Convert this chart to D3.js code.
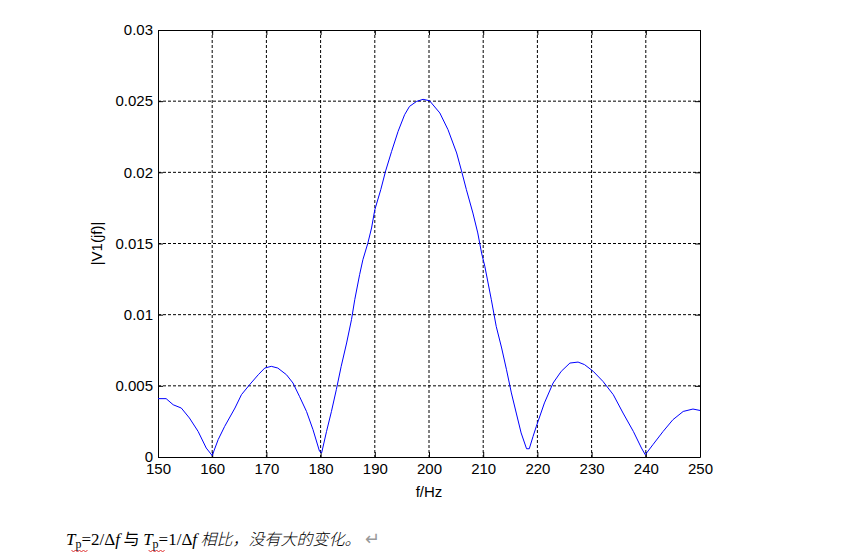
<!DOCTYPE html>
<html>
<head>
<meta charset="utf-8">
<script src="https://cdn.jsdelivr.net/npm/d3@7"></script>
<style>
  body { margin: 0; background: #fff; }
  svg { display: block; }
</style>
</head>
<body>
<div id="canvas"></div>
<script>
// values
var freq = [150, 151.5, 152.8, 154.3, 155.8, 157.4, 158.9, 160, 161.1, 162.3, 164.2, 165.4, 166.9, 168.5, 169.7, 170.9, 172.1, 173.7, 174.9, 176.1, 177.4, 178.6, 179.8, 180.2,
  181.1, 182.0, 182.9, 183.8, 184.8, 185.7, 186.3, 187.2, 187.8, 188.7, 189.4, 190.0, 191.1, 192.0, 193.1, 194.3, 195.5, 196.4, 197.7, 198.9, 200.1,
  202.0, 203.5, 205.1, 206.0, 206.9, 208.1, 209.0, 209.7, 210.3, 211.5, 212.4, 213.4, 214.3, 215.2, 216.1, 217.0, 218.0, 218.5, 219.2, 219.8,
  221.3, 222.9, 224.4, 226.0, 227.5, 228.7, 230.3, 232.1, 234.0, 235.8, 237.7, 239.2, 239.9, 241.3, 243.2, 245.0, 246.9, 248.7, 250];
var mag = [0.0041, 0.0041, 0.00367, 0.00344, 0.00274, 0.0018, 0.00063, 0.0001, 0.00122, 0.00215, 0.00344, 0.00438, 0.00508, 0.00578, 0.00625, 0.00637, 0.00625, 0.00578, 0.0052, 0.00426, 0.0032, 0.00192, 0.0004, 0.0003,
  0.0018, 0.0032, 0.00473, 0.00637, 0.00801, 0.00965, 0.01105, 0.01281, 0.01386, 0.0150, 0.01609, 0.01737, 0.01878, 0.0201, 0.02147, 0.02288, 0.02405, 0.02463, 0.02498, 0.02513, 0.02503,
  0.02417, 0.0230, 0.02136, 0.0201, 0.01878, 0.01714, 0.01574, 0.01433, 0.0134, 0.01105, 0.00918, 0.00766, 0.00613, 0.0045, 0.00309, 0.00169, 0.00058, 0.00058, 0.00145, 0.00215,
  0.0038, 0.0052, 0.00602, 0.0066, 0.00667, 0.00649, 0.00602, 0.00531, 0.00438, 0.00309, 0.0018, 0.00063, 0.00016, 0.00086, 0.0018, 0.00262, 0.0032, 0.00337, 0.00327];

var xTicks = [150, 160, 170, 180, 190, 200, 210, 220, 230, 240, 250];
var yTicks = [0, 0.005, 0.01, 0.015, 0.02, 0.025, 0.03];
var yTickLabels = ["0", "0.005", "0.01", "0.015", "0.02", "0.025", "0.03"];

var w = 851, h = 558;
var pLeft = 158, pRight = 700, pTop = 30, pBottom = 457;

var svg = d3.select("#canvas").append("svg")
    .attr("width", w)
    .attr("height", h);

var x = d3.scaleLinear().domain([150, 250]).range([pLeft, pRight]);
var y = d3.scaleLinear().domain([0, 0.03]).range([pBottom, pTop]);

// grid (dashed)
svg.append("g").selectAll("line.vg")
    .data(xTicks.slice(1, -1)).enter().append("line")
    .attr("x1", d => x(d)).attr("x2", d => x(d))
    .attr("y1", pTop).attr("y2", pBottom)
    .attr("stroke", "black").attr("stroke-width", 1)
    .attr("stroke-dasharray", "3,2");
svg.append("g").selectAll("line.hg")
    .data(yTicks.slice(1, -1)).enter().append("line")
    .attr("x1", pLeft).attr("x2", pRight)
    .attr("y1", d => y(d)).attr("y2", d => y(d))
    .attr("stroke", "black").attr("stroke-width", 1)
    .attr("stroke-dasharray", "3,2");

// axes, ticks pointing inwards like matlab
var fontAx = "Arial, 'Liberation Sans', sans-serif";
var xAxis = d3.axisBottom(x).tickValues(xTicks).tickSizeInner(-5).tickSizeOuter(0).tickPadding(10);
var yAxis = d3.axisLeft(y).tickValues(yTicks).tickSizeInner(-5).tickSizeOuter(0).tickPadding(10)
    .tickFormat((d, i) => yTickLabels[i]);

var gx = svg.append("g").attr("transform", `translate(0,${pBottom})`).call(xAxis);
var gy = svg.append("g").attr("transform", `translate(${pLeft},0)`).call(yAxis);
svg.append("g").attr("transform", `translate(0,${pTop})`)
    .call(d3.axisTop(x).tickValues(xTicks).tickSizeInner(-5).tickSizeOuter(0).tickFormat(""));
svg.append("g").attr("transform", `translate(${pRight},0)`)
    .call(d3.axisRight(y).tickValues(yTicks).tickSizeInner(-5).tickSizeOuter(0).tickFormat(""));

svg.selectAll(".domain").attr("stroke", "black").attr("stroke-width", 1);
svg.selectAll(".tick line").attr("stroke", "black");
svg.selectAll(".tick text")
    .attr("font-family", fontAx).attr("font-size", 15).attr("fill", "black");
gx.selectAll(".tick text").attr("dy", "0.71em").attr("y", 6);
gy.selectAll(".tick text").attr("x", -5);

// curve
var line = d3.line().x((d, i) => x(freq[i])).y(d => y(d));
svg.append("path")
    .datum(mag)
    .attr("d", line)
    .attr("fill", "none")
    .attr("stroke", "#0000ff")
    .attr("stroke-width", 1);

// labels
svg.append("text")
    .attr("x", (pLeft + pRight) / 2).attr("y", 497)
    .attr("text-anchor", "middle")
    .attr("font-family", fontAx).attr("font-size", 15)
    .text("f/Hz");
svg.append("text")
    .attr("transform", `translate(102,${(pTop + pBottom) / 2})rotate(-90)`)
    .attr("text-anchor", "middle")
    .attr("font-family", fontAx).attr("font-size", 15)
    .text("|V1(jf)|");

// caption under the figure
var serif = "'Liberation Serif', 'Times New Roman', serif";
var cjk = "'Noto Sans CJK SC', serif";
var cap = svg.append("text")
    .attr("x", 66).attr("y", 545)
    .attr("font-size", 17).attr("font-family", serif);
cap.append("tspan").attr("font-style", "italic").text("T");
cap.append("tspan").attr("font-size", 12).attr("dy", 3).text("p");
cap.append("tspan").attr("dy", -3).text("=2/Δ");
cap.append("tspan").attr("font-style", "italic").text("f");
cap.append("tspan").attr("font-family", cjk).attr("font-size", 16).text(" 与 ");
cap.append("tspan").attr("font-style", "italic").text("T");
cap.append("tspan").attr("font-size", 12).attr("dy", 3).text("p");
cap.append("tspan").attr("dy", -3).text("=1/Δ");
cap.append("tspan").attr("font-style", "italic").text("f");
cap.append("tspan").attr("font-family", cjk).attr("font-size", 16).attr("font-style", "italic")
    .attr("font-weight", 300).text(" 相比，没有大的变化。");
cap.append("tspan").attr("fill", "#999").attr("font-size", 18).attr("dx", 4).text("↵");

// red wavy underline under the subscripts
var node = cap.node();
var full = node.textContent;
[1, full.indexOf("p", 5)].forEach(function(ci) {
    var ext = node.getExtentOfChar(ci);
    var x0 = ext.x - 4, x1 = ext.x + ext.width + 3, yy = 550;
    var d = "M" + x0 + "," + yy;
    for (var k = x0; k < x1; k += 4) {
        d += " L" + (k + 2) + "," + (yy + 2) + " L" + (k + 4) + "," + yy;
    }
    svg.append("path").attr("d", d).attr("fill", "none")
        .attr("stroke", "#e03030").attr("stroke-width", 1);
});
</script>
</body>
</html>
